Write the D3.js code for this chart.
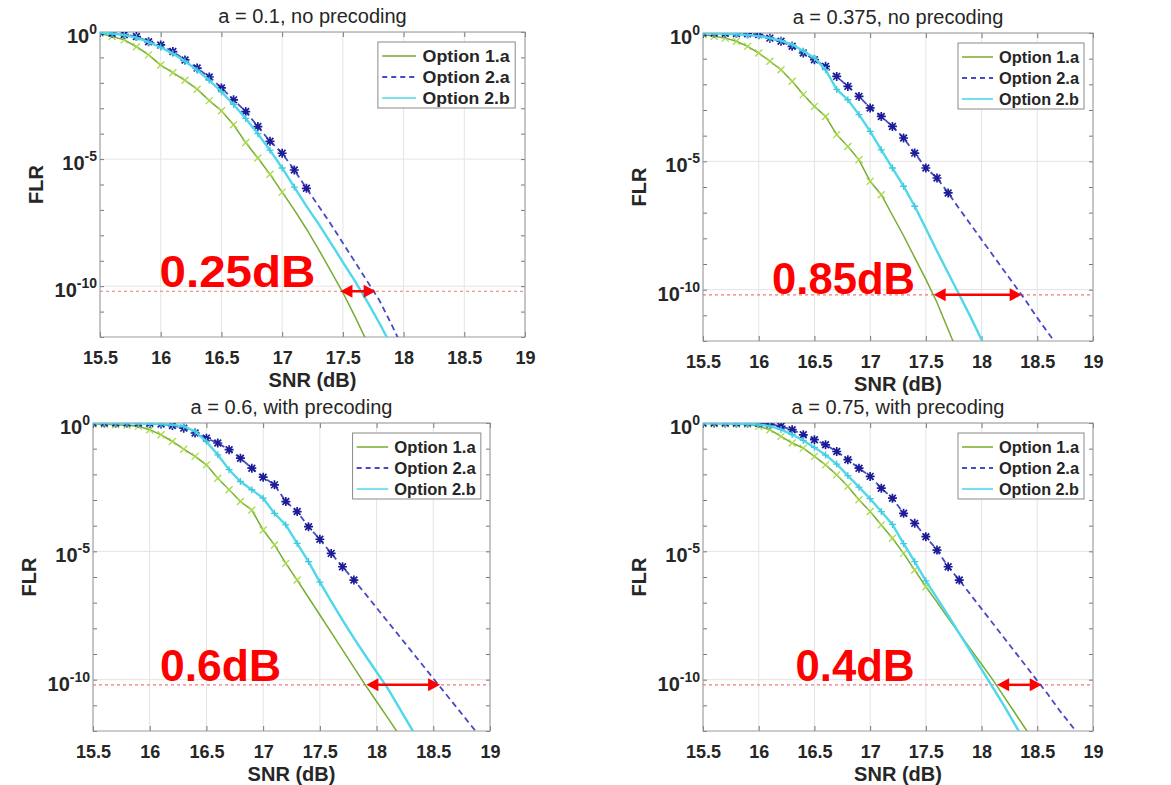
<!DOCTYPE html>
<html>
<head>
<meta charset="utf-8">
<script src="https://cdn.jsdelivr.net/npm/d3@7"></script>
<style>
  body { margin: 0; background: #fff; }
  svg { display: block; }
  text { font-family: "Liberation Sans", Arial, sans-serif; }
</style>
</head>
<body>
<div id="chart"></div>
<script>
// FLR vs SNR, four a-values. Values are log10(FLR) at each 0.1 dB.

const snrGrid = [15.5, 15.6, 15.7, 15.8, 15.9, 16.0, 16.1, 16.2, 16.3, 16.4, 16.5, 16.6,
  16.7, 16.8, 16.9, 17.0, 17.1, 17.2, 17.3, 17.4, 17.5, 17.6, 17.7, 17.8, 17.9, 18.0,
  18.1, 18.2, 18.3, 18.4, 18.5, 18.6, 18.7, 18.8, 18.9, 19.0];
const snrTicks = [15.5, 16, 16.5, 17, 17.5, 18, 18.5, 19];
const flrDecades = [0, -1, -2, -3, -4, -5, -6, -7, -8, -9, -10, -11, -12];
const flrLabelExps = [0, -5, -10];
const seriesNames = ["Option 1.a", "Option 2.a", "Option 2.b"];
const panelTitles = ["a = 0.1, no precoding", "a = 0.375, no precoding",
  "a = 0.6, with precoding", "a = 0.75, with precoding"];
const gainLabels = ["0.25dB", "0.85dB", "0.6dB", "0.4dB"];
const flrTarget = 6.3e-11;
// arrow ends: SNR where Option 1.a and Option 2.a reach the target
const gainArrows = [[17.48, 17.77], [17.57, 18.36], [17.91, 18.56], [18.14, 18.54]];

// a = 0.1
const a010_opt1a = [-0.05, -0.18, -0.31, -0.58, -0.9, -1.3, -1.6, -1.9, -2.25, -2.7, -3.1, -3.65,
  -4.35, -4.96, -5.6, -6.3, -7.0, -7.75, -8.55, -9.4, -10.25, -11.2, -12.2];
const a010_opt2a = [0, -0.05, -0.1, -0.18, -0.38, -0.51, -0.77, -1.1, -1.42, -1.77, -2.2, -2.67,
  -3.13, -3.72, -4.3, -4.77, -5.43, -6.15, -6.85, -7.55, -8.3, -9.05, -9.8, -10.55, -11.5, -12.5];
const a010_opt2b = [-0.02, -0.06, -0.12, -0.22, -0.4, -0.6, -0.85, -1.15, -1.5, -1.9, -2.35, -2.85,
  -3.4, -4.0, -4.65, -5.35, -6.1, -6.85, -7.55, -8.3, -9.05, -9.8, -10.6, -11.45, -12.35];
// a = 0.375
const a0375_opt1a = [-0.06, -0.13, -0.2, -0.32, -0.52, -0.78, -1.1, -1.43, -1.88, -2.4, -2.86, -3.25,
  -3.96, -4.42, -4.94, -5.78, -6.3, -7.1, -7.9, -8.75, -9.6, -10.5, -11.55, -12.6];
const a0375_opt2a = [0, 0, -0.01, -0.02, -0.03, -0.06, -0.2, -0.32, -0.52, -0.78, -1.04, -1.3,
  -1.69, -2.08, -2.47, -2.92, -3.25, -3.64, -4.09, -4.68, -5.26, -5.65, -6.23, -6.85, -7.45, -8.05,
  -8.65, -9.25, -9.85, -10.45, -11.1, -11.7, -12.3];
const a0375_opt2b = [-0.01, -0.02, -0.03, -0.05, -0.08, -0.12, -0.2, -0.3, -0.45, -0.7, -0.97, -1.43,
  -2.2, -2.6, -3.18, -3.83, -4.55, -5.26, -5.97, -6.75, -7.62, -8.5, -9.35, -10.2, -11.05, -11.95, -12.8];
// a = 0.6
const a060_opt1a = [-0.04, -0.05, -0.07, -0.09, -0.13, -0.26, -0.46, -0.72, -1.02, -1.3, -1.63, -2.15,
  -2.6, -3.06, -3.39, -4.17, -4.75, -5.47, -6.12, -6.8, -7.48, -8.16, -8.84, -9.52, -10.2, -10.85,
  -11.5, -12.15];
const a060_opt2a = [0, 0, 0, 0, 0, -0.01, -0.04, -0.1, -0.2, -0.39, -0.59, -0.78, -1.04, -1.37, -1.76,
  -2.11, -2.41, -3.06, -3.45, -4.04, -4.53, -5.08, -5.6, -6.12, -6.65, -7.2, -7.75, -8.3, -8.85, -9.4,
  -9.95, -10.5, -11.05, -11.6, -12.15, -12.7];
const a060_opt2b = [0, 0, -0.01, -0.01, -0.02, -0.03, -0.04, -0.07, -0.13, -0.33, -0.72, -1.24, -1.82,
  -2.28, -2.6, -2.93, -3.52, -3.97, -4.69, -5.4, -6.2, -6.95, -7.68, -8.38, -9.05, -9.7, -10.35, -11.1,
  -11.85, -12.6];
// a = 0.75
const a075_opt1a = [-0.02, -0.03, -0.03, -0.04, -0.05, -0.13, -0.26, -0.52, -0.78, -0.98, -1.3, -1.63,
  -2.02, -2.47, -2.99, -3.45, -3.97, -4.49, -5.08, -5.73, -6.38, -6.98, -7.6, -8.2, -8.8, -9.4, -10.0,
  -10.65, -11.3, -11.95, -12.6];
const a075_opt2a = [0, 0, 0, 0, 0, -0.01, -0.04, -0.13, -0.26, -0.46, -0.65, -0.85, -1.11, -1.43, -1.76,
  -2.08, -2.54, -2.93, -3.52, -3.91, -4.43, -4.95, -5.6, -6.12, -6.68, -7.24, -7.8, -8.36, -8.92, -9.48,
  -10.04, -10.6, -11.2, -11.75, -12.3];
const a075_opt2b = [-0.01, -0.01, -0.02, -0.03, -0.04, -0.06, -0.12, -0.25, -0.45, -0.68, -0.95, -1.25,
  -1.6, -2.05, -2.5, -2.95, -3.45, -3.95, -4.7, -5.4, -6.15, -6.82, -7.5, -8.2, -8.9, -9.6, -10.3, -11.0,
  -11.75, -12.5];

const panelSeries = [
  [a010_opt1a, a010_opt2a, a010_opt2b],
  [a0375_opt1a, a0375_opt2a, a0375_opt2b],
  [a060_opt1a, a060_opt2a, a060_opt2b],
  [a075_opt1a, a075_opt2a, a075_opt2b]
];
// number of simulated points (drawn with markers) per series
const markerCounts = [[16, 18, 17], [17, 23, 20], [19, 24, 21], [21, 24, 21]];

// layout
const panelBoxes = [
  { left: 100, right: 525, top: 32, bottom: 337 },
  { left: 703, right: 1093, top: 33, bottom: 341 },
  { left: 93, right: 490, top: 423, bottom: 731 },
  { left: 703, right: 1093, top: 423, bottom: 731 }
];
const labelAnchors = [[15.99, -10.05], [16.12, -10.15], [16.09, -10.05], [16.33, -10.05]];
const lineColors = ["#77ac30", "#4848c8", "#4fd8ea"];
const markerColors = ["#a8da48", "#1c1c98", "#44c8de"];
const lineWidths = [1.5, 1.8, 2.4];
const lineDash = [null, "6,4", null];

const svg = d3.select("#chart").append("svg")
  .attr("width", 1171)
  .attr("height", 785);

function markerPath(kind, s) {
  if (kind === 0) return `M${-s},${-s}L${s},${s}M${-s},${s}L${s},${-s}`;
  if (kind === 1) return `M${-s},0L${s},0M0,${-s}L0,${s}M${-s * 0.75},${-s * 0.75}L${s * 0.75},${s * 0.75}M${-s * 0.75},${s * 0.75}L${s * 0.75},${-s * 0.75}`;
  return `M${-s},0L${s},0M0,${-s}L0,${s}`;
}

panelSeries.forEach((series, k) => {
  const box = panelBoxes[k];
  const hx = (box.right - box.left) / 390;
  const x = d3.scaleLinear().domain([15.5, 19]).range([box.left, box.right]);
  const y = d3.scaleLog().domain([1e-12, 1]).range([box.bottom, box.top]);
  const g = svg.append("g");

  g.append("clipPath").attr("id", "clip" + k)
    .append("rect")
    .attr("x", box.left).attr("y", box.top)
    .attr("width", box.right - box.left).attr("height", box.bottom - box.top);

  // grid
  g.append("g").selectAll("line").data(snrTicks).join("line")
    .attr("x1", d => x(d)).attr("x2", d => x(d))
    .attr("y1", box.top).attr("y2", box.bottom)
    .attr("stroke", "#e4e4e4");
  g.append("g").selectAll("line").data(flrLabelExps).join("line")
    .attr("x1", box.left).attr("x2", box.right)
    .attr("y1", d => y(Math.pow(10, d))).attr("y2", d => y(Math.pow(10, d)))
    .attr("stroke", "#e4e4e4");

  // axes (ticks inward)
  const styleAxis = sel => {
    sel.select(".domain").remove();
    sel.selectAll(".tick line").attr("stroke", "#777");
  };
  g.append("g")
    .attr("transform", `translate(0,${box.bottom})`)
    .call(d3.axisBottom(x).tickValues(snrTicks).tickSize(-5).tickPadding(14).tickFormat(d => String(d)))
    .call(styleAxis)
    .selectAll("text")
    .style("font-size", "18px").style("font-weight", "bold").attr("fill", "#262626");
  g.append("g")
    .attr("transform", `translate(0,${box.top})`)
    .call(d3.axisTop(x).tickValues(snrTicks).tickSize(-5).tickFormat(""))
    .call(styleAxis);
  g.append("g")
    .attr("transform", `translate(${box.left},0)`)
    .call(d3.axisLeft(y).tickValues(flrDecades.map(e => Math.pow(10, e))).tickSize(-4).tickFormat(""))
    .call(styleAxis);
  g.append("g")
    .attr("transform", `translate(${box.right},0)`)
    .call(d3.axisRight(y).tickValues(flrDecades.map(e => Math.pow(10, e))).tickSize(-4).tickFormat(""))
    .call(styleAxis);

  // y tick labels 10^n
  const yl = g.append("g").selectAll("text").data(flrLabelExps).join("text")
    .attr("x", box.left - 3)
    .attr("y", d => y(Math.pow(10, d)) + 11)
    .attr("text-anchor", "end")
    .attr("fill", "#262626")
    .style("font-weight", "bold");
  yl.append("tspan").style("font-size", "20px").text("10");
  yl.append("tspan").style("font-size", "14px").attr("dy", -9).text(d => String(d));

  // frame
  g.append("rect")
    .attr("x", box.left).attr("y", box.top)
    .attr("width", box.right - box.left).attr("height", box.bottom - box.top)
    .attr("fill", "none").attr("stroke", "#9a9a9a");

  // target line
  g.append("line")
    .attr("x1", box.left).attr("x2", box.right)
    .attr("y1", y(flrTarget)).attr("y2", y(flrTarget))
    .attr("stroke", "#ee7a7a").attr("stroke-width", 1.2).attr("stroke-dasharray", "3,3");

  // curves
  const plot = g.append("g").attr("clip-path", `url(#clip${k})`);
  const line = d3.line()
    .x((d, i) => x(snrGrid[i]))
    .y(d => y(Math.pow(10, d)));
  series.forEach((vals, s) => {
    plot.append("path")
      .attr("d", line(vals))
      .attr("fill", "none")
      .attr("stroke", lineColors[s])
      .attr("stroke-width", lineWidths[s])
      .attr("stroke-dasharray", lineDash[s]);
    plot.append("g").selectAll("path")
      .data(vals.slice(0, markerCounts[k][s]))
      .join("path")
      .attr("transform", (d, i) => `translate(${x(snrGrid[i])},${y(Math.pow(10, d))})`)
      .attr("d", markerPath(s, s === 1 ? 4.5 : 3.5))
      .attr("fill", "none")
      .attr("stroke", markerColors[s])
      .attr("stroke-width", s === 1 ? 1.7 : 1.3);
  });

  // legend
  const lw = 126 * hx;
  const lx = box.right - 9 * hx - lw;
  const ly = box.top + 10;
  const legend = g.append("g");
  legend.append("rect")
    .attr("x", lx).attr("y", ly).attr("width", lw).attr("height", 66)
    .attr("fill", "#fff").attr("stroke", "#8a8a8a");
  seriesNames.forEach((name, s) => {
    const ry = ly + 14 + s * 21;
    legend.append("line")
      .attr("x1", lx + 4 * hx).attr("x2", lx + 35 * hx)
      .attr("y1", ry).attr("y2", ry)
      .attr("stroke", lineColors[s])
      .attr("stroke-width", s === 2 ? 1.6 : lineWidths[s])
      .attr("stroke-dasharray", s === 1 ? "5,4" : null);
    legend.append("text")
      .attr("x", lx + 41 * hx).attr("y", ry + 5.5)
      .attr("textLength", 80 * hx).attr("lengthAdjust", "spacingAndGlyphs")
      .style("font-size", "16px").style("font-weight", "bold").attr("fill", "#262626")
      .text(name);
  });

  // titles and axis labels
  g.append("text")
    .attr("x", (box.left + box.right) / 2).attr("y", box.top - 9)
    .attr("text-anchor", "middle")
    .style("font-size", "20px").attr("fill", "#262626")
    .text(panelTitles[k]);
  g.append("text")
    .attr("x", (box.left + box.right) / 2).attr("y", box.bottom + 50)
    .attr("text-anchor", "middle")
    .style("font-size", "20px").style("font-weight", "bold").attr("fill", "#262626")
    .text("SNR (dB)");
  g.append("text")
    .attr("transform", `translate(${box.left - 57},${(box.top + box.bottom) / 2}) rotate(-90)`)
    .attr("text-anchor", "middle")
    .style("font-size", "20px").style("font-weight", "bold").attr("fill", "#262626")
    .text("FLR");

  // gain annotation
  const [xa, xb] = gainArrows[k];
  const ay = y(flrTarget);
  const ann = g.append("g").attr("fill", "#ff0000");
  ann.append("line")
    .attr("x1", x(xa) + 8).attr("x2", x(xb) - 8)
    .attr("y1", ay).attr("y2", ay)
    .attr("stroke", "#ff0000").attr("stroke-width", 2.5);
  ann.append("path")
    .attr("d", `M${x(xa)},${ay}l12,-6.5v13z M${x(xb)},${ay}l-12,-6.5v13z`);
  const lab = gainLabels[k];
  ann.append("text")
    .attr("x", x(labelAnchors[k][0]))
    .attr("y", y(Math.pow(10, labelAnchors[k][1])))
    .attr("textLength", (lab.length === 6 ? 143 : 119) * hx)
    .attr("lengthAdjust", "spacingAndGlyphs")
    .style("font-size", "44px").style("font-weight", "bold")
    .text(lab);
});
</script>
</body>
</html>
